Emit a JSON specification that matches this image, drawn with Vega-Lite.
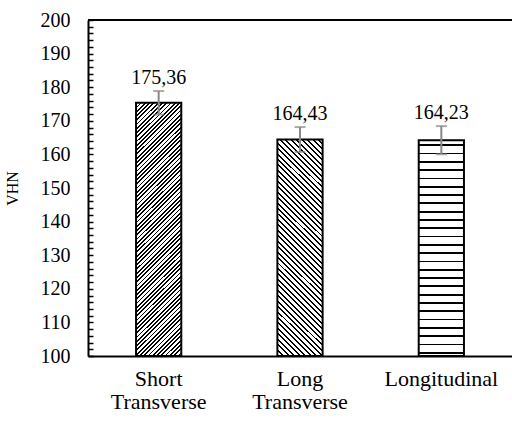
{
  "$schema": "https://vega.github.io/schema/vega-lite/v6.json",
  "width": 424,
  "height": 336,
  "autosize": "none",
  "padding": {"left": 88, "top": 20, "right": 0, "bottom": 70},
  "config": {
    "view": {"stroke": null},
    "locale": {"number": {"decimal": ",", "thousands": ".", "grouping": [3], "currency": ["", ""]}}
  },
  "data": {
    "values": [
      {"cat": "Short Transverse", "vhn": 175.36, "lo": 171.86, "hi": 178.86},
      {"cat": "Long Transverse", "vhn": 164.43, "lo": 160.73, "hi": 168.13},
      {"cat": "Longitudinal", "vhn": 164.23, "lo": 160.03, "hi": 168.43}
    ]
  },
  "encoding": {
    "y": {
      "type": "quantitative",
      "scale": {"domain": [100, 200], "nice": false, "zero": false},
      "axis": {
        "title": "VHN", "titleFont": "Liberation Serif, Times New Roman, serif", "titleFontSize": 16, "titleFontWeight": "normal",
        "titleColor": "#000", "titlePadding": 20,
        "grid": false, "domainColor": "#000", "domainWidth": 2,
        "tickColor": "#000", "tickWidth": 1.5, "tickSize": -5,
        "values": [100, 102, 104, 106, 108, 110, 112, 114, 116, 118, 120, 122, 124, 126, 128, 130, 132, 134, 136, 138, 140, 142, 144, 146, 148, 150, 152, 154, 156, 158, 160, 162, 164, 166, 168, 170, 172, 174, 176, 178, 180, 182, 184, 186, 188, 190, 192, 194, 196, 198, 200],
        "labelExpr": "datum.value % 10 === 0 ? datum.label : ''",
        "labelOverlap": false, "labelFlush": false,
        "labelFont": "Liberation Serif, Times New Roman, serif", "labelFontSize": 20, "labelColor": "#000", "labelPadding": 23
      }
    }
  },
  "layer": [
    {
      "encoding": {
        "x": {
          "field": "cat", "type": "nominal", "sort": null,
          "scale": {"paddingInner": 0.68, "paddingOuter": 0.34},
          "axis": {
            "title": null, "labelAngle": 0, "ticks": false,
            "domainColor": "#000", "domainWidth": 2,
            "labelFont": "Liberation Serif, Times New Roman, serif", "labelFontSize": 22, "labelColor": "#000",
            "labelLineHeight": 23, "labelPadding": 12,
            "labelExpr": "split(datum.label, ' ')"
          }
        }
      },
      "layer": [
        {
          "transform": [{"filter": "datum.cat === 'Short Transverse'"}],
          "mark": {
            "type": "bar", "stroke": "#000", "strokeWidth": 2,
            "fill": {
              "gradient": "linear", "x1": 0, "y1": 0, "x2": 0.2029, "y2": 1.1417,
              "stops": [
                {"offset": 0.0000, "color": "#000"}, {"offset": 0.0060, "color": "#000"}, {"offset": 0.0060, "color": "#fff"},
                {"offset": 0.0143, "color": "#fff"}, {"offset": 0.0143, "color": "#000"}, {"offset": 0.0203, "color": "#000"}, {"offset": 0.0203, "color": "#fff"},
                {"offset": 0.0286, "color": "#fff"}, {"offset": 0.0286, "color": "#000"}, {"offset": 0.0346, "color": "#000"}, {"offset": 0.0346, "color": "#fff"},
                {"offset": 0.0429, "color": "#fff"}, {"offset": 0.0429, "color": "#000"}, {"offset": 0.0489, "color": "#000"}, {"offset": 0.0489, "color": "#fff"},
                {"offset": 0.0571, "color": "#fff"}, {"offset": 0.0571, "color": "#000"}, {"offset": 0.0631, "color": "#000"}, {"offset": 0.0631, "color": "#fff"},
                {"offset": 0.0714, "color": "#fff"}, {"offset": 0.0714, "color": "#000"}, {"offset": 0.0774, "color": "#000"}, {"offset": 0.0774, "color": "#fff"},
                {"offset": 0.0857, "color": "#fff"}, {"offset": 0.0857, "color": "#000"}, {"offset": 0.0917, "color": "#000"}, {"offset": 0.0917, "color": "#fff"},
                {"offset": 0.1000, "color": "#fff"}, {"offset": 0.1000, "color": "#000"}, {"offset": 0.1060, "color": "#000"}, {"offset": 0.1060, "color": "#fff"},
                {"offset": 0.1143, "color": "#fff"}, {"offset": 0.1143, "color": "#000"}, {"offset": 0.1203, "color": "#000"}, {"offset": 0.1203, "color": "#fff"},
                {"offset": 0.1286, "color": "#fff"}, {"offset": 0.1286, "color": "#000"}, {"offset": 0.1346, "color": "#000"}, {"offset": 0.1346, "color": "#fff"},
                {"offset": 0.1429, "color": "#fff"}, {"offset": 0.1429, "color": "#000"}, {"offset": 0.1489, "color": "#000"}, {"offset": 0.1489, "color": "#fff"},
                {"offset": 0.1571, "color": "#fff"}, {"offset": 0.1571, "color": "#000"}, {"offset": 0.1631, "color": "#000"}, {"offset": 0.1631, "color": "#fff"},
                {"offset": 0.1714, "color": "#fff"}, {"offset": 0.1714, "color": "#000"}, {"offset": 0.1774, "color": "#000"}, {"offset": 0.1774, "color": "#fff"},
                {"offset": 0.1857, "color": "#fff"}, {"offset": 0.1857, "color": "#000"}, {"offset": 0.1917, "color": "#000"}, {"offset": 0.1917, "color": "#fff"},
                {"offset": 0.2000, "color": "#fff"}, {"offset": 0.2000, "color": "#000"}, {"offset": 0.2060, "color": "#000"}, {"offset": 0.2060, "color": "#fff"},
                {"offset": 0.2143, "color": "#fff"}, {"offset": 0.2143, "color": "#000"}, {"offset": 0.2203, "color": "#000"}, {"offset": 0.2203, "color": "#fff"},
                {"offset": 0.2286, "color": "#fff"}, {"offset": 0.2286, "color": "#000"}, {"offset": 0.2346, "color": "#000"}, {"offset": 0.2346, "color": "#fff"},
                {"offset": 0.2429, "color": "#fff"}, {"offset": 0.2429, "color": "#000"}, {"offset": 0.2489, "color": "#000"}, {"offset": 0.2489, "color": "#fff"},
                {"offset": 0.2571, "color": "#fff"}, {"offset": 0.2571, "color": "#000"}, {"offset": 0.2631, "color": "#000"}, {"offset": 0.2631, "color": "#fff"},
                {"offset": 0.2714, "color": "#fff"}, {"offset": 0.2714, "color": "#000"}, {"offset": 0.2774, "color": "#000"}, {"offset": 0.2774, "color": "#fff"},
                {"offset": 0.2857, "color": "#fff"}, {"offset": 0.2857, "color": "#000"}, {"offset": 0.2917, "color": "#000"}, {"offset": 0.2917, "color": "#fff"},
                {"offset": 0.3000, "color": "#fff"}, {"offset": 0.3000, "color": "#000"}, {"offset": 0.3060, "color": "#000"}, {"offset": 0.3060, "color": "#fff"},
                {"offset": 0.3143, "color": "#fff"}, {"offset": 0.3143, "color": "#000"}, {"offset": 0.3203, "color": "#000"}, {"offset": 0.3203, "color": "#fff"},
                {"offset": 0.3286, "color": "#fff"}, {"offset": 0.3286, "color": "#000"}, {"offset": 0.3346, "color": "#000"}, {"offset": 0.3346, "color": "#fff"},
                {"offset": 0.3429, "color": "#fff"}, {"offset": 0.3429, "color": "#000"}, {"offset": 0.3489, "color": "#000"}, {"offset": 0.3489, "color": "#fff"},
                {"offset": 0.3571, "color": "#fff"}, {"offset": 0.3571, "color": "#000"}, {"offset": 0.3631, "color": "#000"}, {"offset": 0.3631, "color": "#fff"},
                {"offset": 0.3714, "color": "#fff"}, {"offset": 0.3714, "color": "#000"}, {"offset": 0.3774, "color": "#000"}, {"offset": 0.3774, "color": "#fff"},
                {"offset": 0.3857, "color": "#fff"}, {"offset": 0.3857, "color": "#000"}, {"offset": 0.3917, "color": "#000"}, {"offset": 0.3917, "color": "#fff"},
                {"offset": 0.4000, "color": "#fff"}, {"offset": 0.4000, "color": "#000"}, {"offset": 0.4060, "color": "#000"}, {"offset": 0.4060, "color": "#fff"},
                {"offset": 0.4143, "color": "#fff"}, {"offset": 0.4143, "color": "#000"}, {"offset": 0.4203, "color": "#000"}, {"offset": 0.4203, "color": "#fff"},
                {"offset": 0.4286, "color": "#fff"}, {"offset": 0.4286, "color": "#000"}, {"offset": 0.4346, "color": "#000"}, {"offset": 0.4346, "color": "#fff"},
                {"offset": 0.4429, "color": "#fff"}, {"offset": 0.4429, "color": "#000"}, {"offset": 0.4489, "color": "#000"}, {"offset": 0.4489, "color": "#fff"},
                {"offset": 0.4571, "color": "#fff"}, {"offset": 0.4571, "color": "#000"}, {"offset": 0.4631, "color": "#000"}, {"offset": 0.4631, "color": "#fff"},
                {"offset": 0.4714, "color": "#fff"}, {"offset": 0.4714, "color": "#000"}, {"offset": 0.4774, "color": "#000"}, {"offset": 0.4774, "color": "#fff"},
                {"offset": 0.4857, "color": "#fff"}, {"offset": 0.4857, "color": "#000"}, {"offset": 0.4917, "color": "#000"}, {"offset": 0.4917, "color": "#fff"},
                {"offset": 0.5000, "color": "#fff"}, {"offset": 0.5000, "color": "#000"}, {"offset": 0.5060, "color": "#000"}, {"offset": 0.5060, "color": "#fff"},
                {"offset": 0.5143, "color": "#fff"}, {"offset": 0.5143, "color": "#000"}, {"offset": 0.5203, "color": "#000"}, {"offset": 0.5203, "color": "#fff"},
                {"offset": 0.5286, "color": "#fff"}, {"offset": 0.5286, "color": "#000"}, {"offset": 0.5346, "color": "#000"}, {"offset": 0.5346, "color": "#fff"},
                {"offset": 0.5429, "color": "#fff"}, {"offset": 0.5429, "color": "#000"}, {"offset": 0.5489, "color": "#000"}, {"offset": 0.5489, "color": "#fff"},
                {"offset": 0.5571, "color": "#fff"}, {"offset": 0.5571, "color": "#000"}, {"offset": 0.5631, "color": "#000"}, {"offset": 0.5631, "color": "#fff"},
                {"offset": 0.5714, "color": "#fff"}, {"offset": 0.5714, "color": "#000"}, {"offset": 0.5774, "color": "#000"}, {"offset": 0.5774, "color": "#fff"},
                {"offset": 0.5857, "color": "#fff"}, {"offset": 0.5857, "color": "#000"}, {"offset": 0.5917, "color": "#000"}, {"offset": 0.5917, "color": "#fff"},
                {"offset": 0.6000, "color": "#fff"}, {"offset": 0.6000, "color": "#000"}, {"offset": 0.6060, "color": "#000"}, {"offset": 0.6060, "color": "#fff"},
                {"offset": 0.6143, "color": "#fff"}, {"offset": 0.6143, "color": "#000"}, {"offset": 0.6203, "color": "#000"}, {"offset": 0.6203, "color": "#fff"},
                {"offset": 0.6286, "color": "#fff"}, {"offset": 0.6286, "color": "#000"}, {"offset": 0.6346, "color": "#000"}, {"offset": 0.6346, "color": "#fff"},
                {"offset": 0.6429, "color": "#fff"}, {"offset": 0.6429, "color": "#000"}, {"offset": 0.6489, "color": "#000"}, {"offset": 0.6489, "color": "#fff"},
                {"offset": 0.6571, "color": "#fff"}, {"offset": 0.6571, "color": "#000"}, {"offset": 0.6631, "color": "#000"}, {"offset": 0.6631, "color": "#fff"},
                {"offset": 0.6714, "color": "#fff"}, {"offset": 0.6714, "color": "#000"}, {"offset": 0.6774, "color": "#000"}, {"offset": 0.6774, "color": "#fff"},
                {"offset": 0.6857, "color": "#fff"}, {"offset": 0.6857, "color": "#000"}, {"offset": 0.6917, "color": "#000"}, {"offset": 0.6917, "color": "#fff"},
                {"offset": 0.7000, "color": "#fff"}, {"offset": 0.7000, "color": "#000"}, {"offset": 0.7060, "color": "#000"}, {"offset": 0.7060, "color": "#fff"},
                {"offset": 0.7143, "color": "#fff"}, {"offset": 0.7143, "color": "#000"}, {"offset": 0.7203, "color": "#000"}, {"offset": 0.7203, "color": "#fff"},
                {"offset": 0.7286, "color": "#fff"}, {"offset": 0.7286, "color": "#000"}, {"offset": 0.7346, "color": "#000"}, {"offset": 0.7346, "color": "#fff"},
                {"offset": 0.7429, "color": "#fff"}, {"offset": 0.7429, "color": "#000"}, {"offset": 0.7489, "color": "#000"}, {"offset": 0.7489, "color": "#fff"},
                {"offset": 0.7571, "color": "#fff"}, {"offset": 0.7571, "color": "#000"}, {"offset": 0.7631, "color": "#000"}, {"offset": 0.7631, "color": "#fff"},
                {"offset": 0.7714, "color": "#fff"}, {"offset": 0.7714, "color": "#000"}, {"offset": 0.7774, "color": "#000"}, {"offset": 0.7774, "color": "#fff"},
                {"offset": 0.7857, "color": "#fff"}, {"offset": 0.7857, "color": "#000"}, {"offset": 0.7917, "color": "#000"}, {"offset": 0.7917, "color": "#fff"},
                {"offset": 0.8000, "color": "#fff"}, {"offset": 0.8000, "color": "#000"}, {"offset": 0.8060, "color": "#000"}, {"offset": 0.8060, "color": "#fff"},
                {"offset": 0.8143, "color": "#fff"}, {"offset": 0.8143, "color": "#000"}, {"offset": 0.8203, "color": "#000"}, {"offset": 0.8203, "color": "#fff"},
                {"offset": 0.8286, "color": "#fff"}, {"offset": 0.8286, "color": "#000"}, {"offset": 0.8346, "color": "#000"}, {"offset": 0.8346, "color": "#fff"},
                {"offset": 0.8429, "color": "#fff"}, {"offset": 0.8429, "color": "#000"}, {"offset": 0.8489, "color": "#000"}, {"offset": 0.8489, "color": "#fff"},
                {"offset": 0.8571, "color": "#fff"}, {"offset": 0.8571, "color": "#000"}, {"offset": 0.8631, "color": "#000"}, {"offset": 0.8631, "color": "#fff"},
                {"offset": 0.8714, "color": "#fff"}, {"offset": 0.8714, "color": "#000"}, {"offset": 0.8774, "color": "#000"}, {"offset": 0.8774, "color": "#fff"},
                {"offset": 0.8857, "color": "#fff"}, {"offset": 0.8857, "color": "#000"}, {"offset": 0.8917, "color": "#000"}, {"offset": 0.8917, "color": "#fff"},
                {"offset": 0.9000, "color": "#fff"}, {"offset": 0.9000, "color": "#000"}, {"offset": 0.9060, "color": "#000"}, {"offset": 0.9060, "color": "#fff"},
                {"offset": 0.9143, "color": "#fff"}, {"offset": 0.9143, "color": "#000"}, {"offset": 0.9203, "color": "#000"}, {"offset": 0.9203, "color": "#fff"},
                {"offset": 0.9286, "color": "#fff"}, {"offset": 0.9286, "color": "#000"}, {"offset": 0.9346, "color": "#000"}, {"offset": 0.9346, "color": "#fff"},
                {"offset": 0.9429, "color": "#fff"}, {"offset": 0.9429, "color": "#000"}, {"offset": 0.9489, "color": "#000"}, {"offset": 0.9489, "color": "#fff"},
                {"offset": 0.9571, "color": "#fff"}, {"offset": 0.9571, "color": "#000"}, {"offset": 0.9631, "color": "#000"}, {"offset": 0.9631, "color": "#fff"},
                {"offset": 0.9714, "color": "#fff"}, {"offset": 0.9714, "color": "#000"}, {"offset": 0.9774, "color": "#000"}, {"offset": 0.9774, "color": "#fff"},
                {"offset": 0.9857, "color": "#fff"}, {"offset": 0.9857, "color": "#000"}, {"offset": 0.9917, "color": "#000"}, {"offset": 0.9917, "color": "#fff"},
                {"offset": 1.0000, "color": "#fff"}
              ]
            }
          },
          "encoding": {
            "y": {"field": "vhn", "type": "quantitative"},
            "y2": {"datum": 100}
          }
        },
        {
          "transform": [{"filter": "datum.cat === 'Long Transverse'"}],
          "mark": {
            "type": "bar", "stroke": "#000", "strokeWidth": 2,
            "fill": {
              "gradient": "linear", "x1": 0, "y1": 1, "x2": 0.2407, "y2": -0.1578,
              "stops": [
                {"offset": 0.0000, "color": "#000"}, {"offset": 0.0075, "color": "#000"}, {"offset": 0.0075, "color": "#fff"},
                {"offset": 0.0208, "color": "#fff"}, {"offset": 0.0208, "color": "#000"}, {"offset": 0.0283, "color": "#000"}, {"offset": 0.0283, "color": "#fff"},
                {"offset": 0.0417, "color": "#fff"}, {"offset": 0.0417, "color": "#000"}, {"offset": 0.0492, "color": "#000"}, {"offset": 0.0492, "color": "#fff"},
                {"offset": 0.0625, "color": "#fff"}, {"offset": 0.0625, "color": "#000"}, {"offset": 0.0700, "color": "#000"}, {"offset": 0.0700, "color": "#fff"},
                {"offset": 0.0833, "color": "#fff"}, {"offset": 0.0833, "color": "#000"}, {"offset": 0.0908, "color": "#000"}, {"offset": 0.0908, "color": "#fff"},
                {"offset": 0.1042, "color": "#fff"}, {"offset": 0.1042, "color": "#000"}, {"offset": 0.1117, "color": "#000"}, {"offset": 0.1117, "color": "#fff"},
                {"offset": 0.1250, "color": "#fff"}, {"offset": 0.1250, "color": "#000"}, {"offset": 0.1325, "color": "#000"}, {"offset": 0.1325, "color": "#fff"},
                {"offset": 0.1458, "color": "#fff"}, {"offset": 0.1458, "color": "#000"}, {"offset": 0.1533, "color": "#000"}, {"offset": 0.1533, "color": "#fff"},
                {"offset": 0.1667, "color": "#fff"}, {"offset": 0.1667, "color": "#000"}, {"offset": 0.1742, "color": "#000"}, {"offset": 0.1742, "color": "#fff"},
                {"offset": 0.1875, "color": "#fff"}, {"offset": 0.1875, "color": "#000"}, {"offset": 0.1950, "color": "#000"}, {"offset": 0.1950, "color": "#fff"},
                {"offset": 0.2083, "color": "#fff"}, {"offset": 0.2083, "color": "#000"}, {"offset": 0.2158, "color": "#000"}, {"offset": 0.2158, "color": "#fff"},
                {"offset": 0.2292, "color": "#fff"}, {"offset": 0.2292, "color": "#000"}, {"offset": 0.2367, "color": "#000"}, {"offset": 0.2367, "color": "#fff"},
                {"offset": 0.2500, "color": "#fff"}, {"offset": 0.2500, "color": "#000"}, {"offset": 0.2575, "color": "#000"}, {"offset": 0.2575, "color": "#fff"},
                {"offset": 0.2708, "color": "#fff"}, {"offset": 0.2708, "color": "#000"}, {"offset": 0.2783, "color": "#000"}, {"offset": 0.2783, "color": "#fff"},
                {"offset": 0.2917, "color": "#fff"}, {"offset": 0.2917, "color": "#000"}, {"offset": 0.2992, "color": "#000"}, {"offset": 0.2992, "color": "#fff"},
                {"offset": 0.3125, "color": "#fff"}, {"offset": 0.3125, "color": "#000"}, {"offset": 0.3200, "color": "#000"}, {"offset": 0.3200, "color": "#fff"},
                {"offset": 0.3333, "color": "#fff"}, {"offset": 0.3333, "color": "#000"}, {"offset": 0.3408, "color": "#000"}, {"offset": 0.3408, "color": "#fff"},
                {"offset": 0.3542, "color": "#fff"}, {"offset": 0.3542, "color": "#000"}, {"offset": 0.3617, "color": "#000"}, {"offset": 0.3617, "color": "#fff"},
                {"offset": 0.3750, "color": "#fff"}, {"offset": 0.3750, "color": "#000"}, {"offset": 0.3825, "color": "#000"}, {"offset": 0.3825, "color": "#fff"},
                {"offset": 0.3958, "color": "#fff"}, {"offset": 0.3958, "color": "#000"}, {"offset": 0.4033, "color": "#000"}, {"offset": 0.4033, "color": "#fff"},
                {"offset": 0.4167, "color": "#fff"}, {"offset": 0.4167, "color": "#000"}, {"offset": 0.4242, "color": "#000"}, {"offset": 0.4242, "color": "#fff"},
                {"offset": 0.4375, "color": "#fff"}, {"offset": 0.4375, "color": "#000"}, {"offset": 0.4450, "color": "#000"}, {"offset": 0.4450, "color": "#fff"},
                {"offset": 0.4583, "color": "#fff"}, {"offset": 0.4583, "color": "#000"}, {"offset": 0.4658, "color": "#000"}, {"offset": 0.4658, "color": "#fff"},
                {"offset": 0.4792, "color": "#fff"}, {"offset": 0.4792, "color": "#000"}, {"offset": 0.4867, "color": "#000"}, {"offset": 0.4867, "color": "#fff"},
                {"offset": 0.5000, "color": "#fff"}, {"offset": 0.5000, "color": "#000"}, {"offset": 0.5075, "color": "#000"}, {"offset": 0.5075, "color": "#fff"},
                {"offset": 0.5208, "color": "#fff"}, {"offset": 0.5208, "color": "#000"}, {"offset": 0.5283, "color": "#000"}, {"offset": 0.5283, "color": "#fff"},
                {"offset": 0.5417, "color": "#fff"}, {"offset": 0.5417, "color": "#000"}, {"offset": 0.5492, "color": "#000"}, {"offset": 0.5492, "color": "#fff"},
                {"offset": 0.5625, "color": "#fff"}, {"offset": 0.5625, "color": "#000"}, {"offset": 0.5700, "color": "#000"}, {"offset": 0.5700, "color": "#fff"},
                {"offset": 0.5833, "color": "#fff"}, {"offset": 0.5833, "color": "#000"}, {"offset": 0.5908, "color": "#000"}, {"offset": 0.5908, "color": "#fff"},
                {"offset": 0.6042, "color": "#fff"}, {"offset": 0.6042, "color": "#000"}, {"offset": 0.6117, "color": "#000"}, {"offset": 0.6117, "color": "#fff"},
                {"offset": 0.6250, "color": "#fff"}, {"offset": 0.6250, "color": "#000"}, {"offset": 0.6325, "color": "#000"}, {"offset": 0.6325, "color": "#fff"},
                {"offset": 0.6458, "color": "#fff"}, {"offset": 0.6458, "color": "#000"}, {"offset": 0.6533, "color": "#000"}, {"offset": 0.6533, "color": "#fff"},
                {"offset": 0.6667, "color": "#fff"}, {"offset": 0.6667, "color": "#000"}, {"offset": 0.6742, "color": "#000"}, {"offset": 0.6742, "color": "#fff"},
                {"offset": 0.6875, "color": "#fff"}, {"offset": 0.6875, "color": "#000"}, {"offset": 0.6950, "color": "#000"}, {"offset": 0.6950, "color": "#fff"},
                {"offset": 0.7083, "color": "#fff"}, {"offset": 0.7083, "color": "#000"}, {"offset": 0.7158, "color": "#000"}, {"offset": 0.7158, "color": "#fff"},
                {"offset": 0.7292, "color": "#fff"}, {"offset": 0.7292, "color": "#000"}, {"offset": 0.7367, "color": "#000"}, {"offset": 0.7367, "color": "#fff"},
                {"offset": 0.7500, "color": "#fff"}, {"offset": 0.7500, "color": "#000"}, {"offset": 0.7575, "color": "#000"}, {"offset": 0.7575, "color": "#fff"},
                {"offset": 0.7708, "color": "#fff"}, {"offset": 0.7708, "color": "#000"}, {"offset": 0.7783, "color": "#000"}, {"offset": 0.7783, "color": "#fff"},
                {"offset": 0.7917, "color": "#fff"}, {"offset": 0.7917, "color": "#000"}, {"offset": 0.7992, "color": "#000"}, {"offset": 0.7992, "color": "#fff"},
                {"offset": 0.8125, "color": "#fff"}, {"offset": 0.8125, "color": "#000"}, {"offset": 0.8200, "color": "#000"}, {"offset": 0.8200, "color": "#fff"},
                {"offset": 0.8333, "color": "#fff"}, {"offset": 0.8333, "color": "#000"}, {"offset": 0.8408, "color": "#000"}, {"offset": 0.8408, "color": "#fff"},
                {"offset": 0.8542, "color": "#fff"}, {"offset": 0.8542, "color": "#000"}, {"offset": 0.8617, "color": "#000"}, {"offset": 0.8617, "color": "#fff"},
                {"offset": 0.8750, "color": "#fff"}, {"offset": 0.8750, "color": "#000"}, {"offset": 0.8825, "color": "#000"}, {"offset": 0.8825, "color": "#fff"},
                {"offset": 0.8958, "color": "#fff"}, {"offset": 0.8958, "color": "#000"}, {"offset": 0.9033, "color": "#000"}, {"offset": 0.9033, "color": "#fff"},
                {"offset": 0.9167, "color": "#fff"}, {"offset": 0.9167, "color": "#000"}, {"offset": 0.9242, "color": "#000"}, {"offset": 0.9242, "color": "#fff"},
                {"offset": 0.9375, "color": "#fff"}, {"offset": 0.9375, "color": "#000"}, {"offset": 0.9450, "color": "#000"}, {"offset": 0.9450, "color": "#fff"},
                {"offset": 0.9583, "color": "#fff"}, {"offset": 0.9583, "color": "#000"}, {"offset": 0.9658, "color": "#000"}, {"offset": 0.9658, "color": "#fff"},
                {"offset": 0.9792, "color": "#fff"}, {"offset": 0.9792, "color": "#000"}, {"offset": 0.9867, "color": "#000"}, {"offset": 0.9867, "color": "#fff"},
                {"offset": 1.0000, "color": "#fff"}
              ]
            }
          },
          "encoding": {
            "y": {"field": "vhn", "type": "quantitative"},
            "y2": {"datum": 100}
          }
        },
        {
          "transform": [{"filter": "datum.cat === 'Longitudinal'"}],
          "mark": {
            "type": "bar", "stroke": "#000", "strokeWidth": 2,
            "fill": {
              "gradient": "linear", "x1": 0, "y1": 0, "x2": 0, "y2": 1,
              "stops": [
                {"offset": 0.0000, "color": "#fff"},
                {"offset": 0.0192, "color": "#fff"}, {"offset": 0.0192, "color": "#000"}, {"offset": 0.0275, "color": "#000"}, {"offset": 0.0275, "color": "#fff"},
                {"offset": 0.0577, "color": "#fff"}, {"offset": 0.0577, "color": "#000"}, {"offset": 0.0660, "color": "#000"}, {"offset": 0.0660, "color": "#fff"},
                {"offset": 0.0962, "color": "#fff"}, {"offset": 0.0962, "color": "#000"}, {"offset": 0.1045, "color": "#000"}, {"offset": 0.1045, "color": "#fff"},
                {"offset": 0.1346, "color": "#fff"}, {"offset": 0.1346, "color": "#000"}, {"offset": 0.1429, "color": "#000"}, {"offset": 0.1429, "color": "#fff"},
                {"offset": 0.1731, "color": "#fff"}, {"offset": 0.1731, "color": "#000"}, {"offset": 0.1814, "color": "#000"}, {"offset": 0.1814, "color": "#fff"},
                {"offset": 0.2115, "color": "#fff"}, {"offset": 0.2115, "color": "#000"}, {"offset": 0.2198, "color": "#000"}, {"offset": 0.2198, "color": "#fff"},
                {"offset": 0.2500, "color": "#fff"}, {"offset": 0.2500, "color": "#000"}, {"offset": 0.2583, "color": "#000"}, {"offset": 0.2583, "color": "#fff"},
                {"offset": 0.2885, "color": "#fff"}, {"offset": 0.2885, "color": "#000"}, {"offset": 0.2968, "color": "#000"}, {"offset": 0.2968, "color": "#fff"},
                {"offset": 0.3269, "color": "#fff"}, {"offset": 0.3269, "color": "#000"}, {"offset": 0.3352, "color": "#000"}, {"offset": 0.3352, "color": "#fff"},
                {"offset": 0.3654, "color": "#fff"}, {"offset": 0.3654, "color": "#000"}, {"offset": 0.3737, "color": "#000"}, {"offset": 0.3737, "color": "#fff"},
                {"offset": 0.4038, "color": "#fff"}, {"offset": 0.4038, "color": "#000"}, {"offset": 0.4121, "color": "#000"}, {"offset": 0.4121, "color": "#fff"},
                {"offset": 0.4423, "color": "#fff"}, {"offset": 0.4423, "color": "#000"}, {"offset": 0.4506, "color": "#000"}, {"offset": 0.4506, "color": "#fff"},
                {"offset": 0.4808, "color": "#fff"}, {"offset": 0.4808, "color": "#000"}, {"offset": 0.4891, "color": "#000"}, {"offset": 0.4891, "color": "#fff"},
                {"offset": 0.5192, "color": "#fff"}, {"offset": 0.5192, "color": "#000"}, {"offset": 0.5275, "color": "#000"}, {"offset": 0.5275, "color": "#fff"},
                {"offset": 0.5577, "color": "#fff"}, {"offset": 0.5577, "color": "#000"}, {"offset": 0.5660, "color": "#000"}, {"offset": 0.5660, "color": "#fff"},
                {"offset": 0.5962, "color": "#fff"}, {"offset": 0.5962, "color": "#000"}, {"offset": 0.6045, "color": "#000"}, {"offset": 0.6045, "color": "#fff"},
                {"offset": 0.6346, "color": "#fff"}, {"offset": 0.6346, "color": "#000"}, {"offset": 0.6429, "color": "#000"}, {"offset": 0.6429, "color": "#fff"},
                {"offset": 0.6731, "color": "#fff"}, {"offset": 0.6731, "color": "#000"}, {"offset": 0.6814, "color": "#000"}, {"offset": 0.6814, "color": "#fff"},
                {"offset": 0.7115, "color": "#fff"}, {"offset": 0.7115, "color": "#000"}, {"offset": 0.7198, "color": "#000"}, {"offset": 0.7198, "color": "#fff"},
                {"offset": 0.7500, "color": "#fff"}, {"offset": 0.7500, "color": "#000"}, {"offset": 0.7583, "color": "#000"}, {"offset": 0.7583, "color": "#fff"},
                {"offset": 0.7885, "color": "#fff"}, {"offset": 0.7885, "color": "#000"}, {"offset": 0.7968, "color": "#000"}, {"offset": 0.7968, "color": "#fff"},
                {"offset": 0.8269, "color": "#fff"}, {"offset": 0.8269, "color": "#000"}, {"offset": 0.8352, "color": "#000"}, {"offset": 0.8352, "color": "#fff"},
                {"offset": 0.8654, "color": "#fff"}, {"offset": 0.8654, "color": "#000"}, {"offset": 0.8737, "color": "#000"}, {"offset": 0.8737, "color": "#fff"},
                {"offset": 0.9038, "color": "#fff"}, {"offset": 0.9038, "color": "#000"}, {"offset": 0.9121, "color": "#000"}, {"offset": 0.9121, "color": "#fff"},
                {"offset": 0.9423, "color": "#fff"}, {"offset": 0.9423, "color": "#000"}, {"offset": 0.9506, "color": "#000"}, {"offset": 0.9506, "color": "#fff"},
                {"offset": 0.9808, "color": "#fff"}, {"offset": 0.9808, "color": "#000"}, {"offset": 0.9891, "color": "#000"}, {"offset": 0.9891, "color": "#fff"},
                {"offset": 1.0000, "color": "#fff"}
              ]
            }
          },
          "encoding": {
            "y": {"field": "vhn", "type": "quantitative"},
            "y2": {"datum": 100}
          }
        },
        {
          "mark": {"type": "rule", "color": "#888888", "strokeWidth": 2},
          "encoding": {
            "y": {"field": "lo", "type": "quantitative"},
            "y2": {"field": "hi"}
          }
        },
        {
          "mark": {"type": "tick", "color": "#888888", "size": 11, "thickness": 2},
          "encoding": {"y": {"field": "lo", "type": "quantitative"}}
        },
        {
          "mark": {"type": "tick", "color": "#888888", "size": 11, "thickness": 2},
          "encoding": {"y": {"field": "hi", "type": "quantitative"}}
        },
        {
          "mark": {"type": "text", "baseline": "alphabetic", "dy": -7, "fontSize": 20, "font": "Liberation Serif, Times New Roman, serif", "color": "#000"},
          "encoding": {
            "y": {"field": "hi", "type": "quantitative"},
            "text": {"field": "vhn", "type": "quantitative", "format": ".2f"}
          }
        }
      ]
    },
    {
      "data": {"values": [{"top": 200}]},
      "mark": {"type": "rule", "color": "#000", "strokeWidth": 2},
      "encoding": {"y": {"field": "top", "type": "quantitative"}}
    }
  ]
}
